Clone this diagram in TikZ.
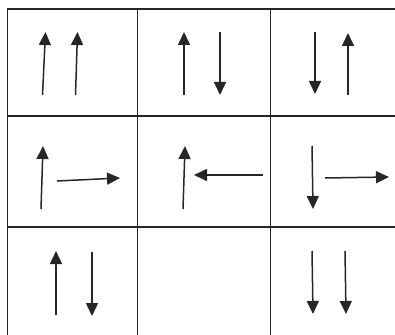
\documentclass[tikz,border=0pt]{standalone}
\usetikzlibrary{arrows.meta}

\tikzset{
    gridline/.style={line width=1.6pt, black!85},
    spin/.style={line width=1.5pt, black!85, -{Triangle[length=13pt, width=12pt]}},
}

\begin{document}
\begin{tikzpicture}[x=1pt, y=-1pt]
    \useasboundingbox (0,0) rectangle (395,334) ;
    \clip (0,0) rectangle (395,334) ;

    % grid
    \draw[gridline] (7.5,338) -- (7.5,9) -- (400,9) ;
    \draw[gridline] (7.5,116) -- (400,116) ;
    \draw[gridline] (7.5,227) -- (400,227) ;
    \draw[gridline] (137.5,9) -- (137.5,338) ;
    \draw[gridline] (270.5,9) -- (270.5,338) ;

    % first row
    \draw[spin] (42.5,95) -- (45.5,32) ;
    \draw[spin] (75.5,95) -- (77.5,32) ;
    \draw[spin] (184,95) -- (184,32) ;
    \draw[spin] (220,32) -- (220,95) ;
    \draw[spin] (315,32) -- (315,94) ;
    \draw[spin] (348,95) -- (348,33) ;

    % second row
    \draw[spin] (41,209) -- (43,146) ;
    \draw[spin] (57,181) -- (120,178) ;
    \draw[spin] (183,209) -- (185,146) ;
    \draw[spin] (263,175) -- (194,175) ;
    \draw[spin] (312,146) -- (313,209) ;
    \draw[spin] (325,178) -- (389,177) ;

    % third row
    \draw[spin] (56,315) -- (56,251) ;
    \draw[spin] (92,252) -- (92,316) ;
    \draw[spin] (312,251) -- (313,314) ;
    \draw[spin] (345,251) -- (346,314) ;
\end{tikzpicture}
\end{document}
